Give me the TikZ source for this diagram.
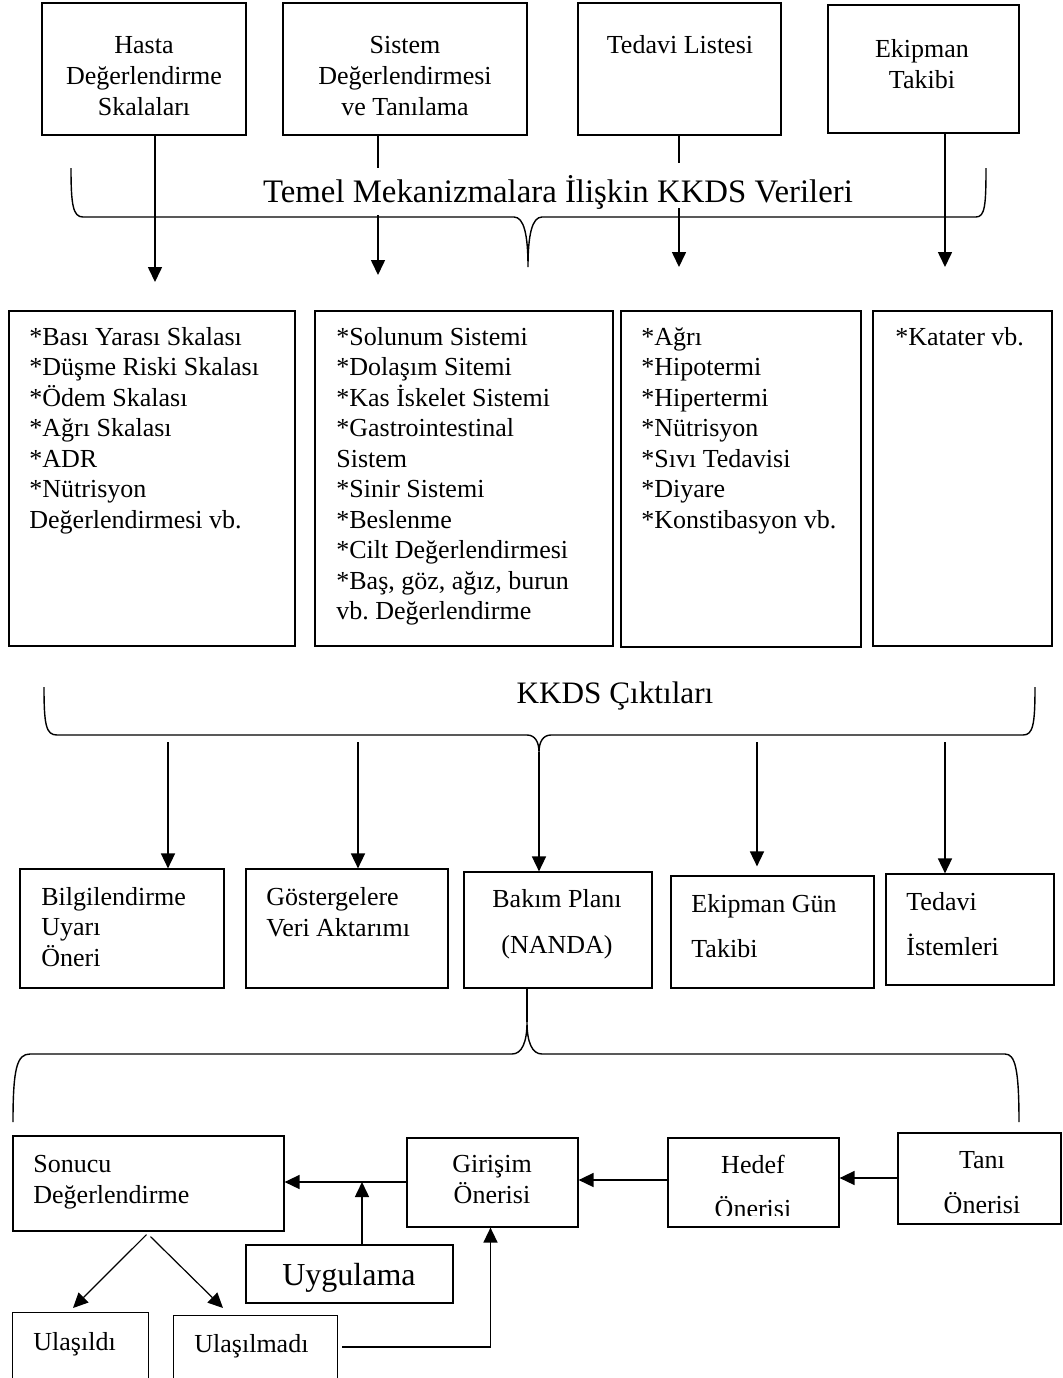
\documentclass[tikz,border=0pt]{standalone}
\usepackage{fontspec}
\setmainfont{Liberation Serif}
\usetikzlibrary{arrows.meta,fit}
\frenchspacing

\begin{document}
\begin{tikzpicture}[x=0.5pt,y=-0.5pt,
    font=\fontsize{13pt}{15.4pt}\selectfont,
    box/.style={draw,line width=0.6pt,inner sep=0pt},
    arr/.style={line width=0.8pt,-{Triangle[length=7.5pt,width=7pt]}},
    ln/.style={line width=0.8pt},
    brc/.style={line width=0.7pt},
    txt/.style={inner sep=0pt,align=left,anchor=base west},
    ctxt/.style={inner sep=0pt,align=center,anchor=base},
    liste/.style={font=\fontsize{13pt}{15.25pt}\selectfont}]
\useasboundingbox (0,0) rectangle (1062,1378);

% ust kutular (metin: son satirin taban cizgisi)
\node[box,fit={(42,3) (246,135)}] (hasta) {};
\node[ctxt] (thasta) at (144,115) {Hasta\\Değerlendirme\\Skalaları};
\node[box,fit={(283,3) (527,135)}] (sistem) {};
\node[ctxt] (tsistem) at (405,115) {Sistem\\Değerlendirmesi\\ve Tanılama};
\node[box,fit={(578,3) (781,135)}] (tedavi) {};
\node[ctxt] (ttedavi) at (680,53) {Tedavi Listesi};
\node[box,fit={(828,5) (1019,133)}] (ekipman) {};
\node[ctxt] (tekipman) at (922,88) {Ekipman\\Takibi};

% ust parantez
\draw[brc] (71,168) .. controls (71,205) and (73,217) .. (83,217) -- (514,217)
  .. controls (524,217) and (528,235) .. (528,267)
  .. controls (528,235) and (532,217) .. (542,217) -- (976,217)
  .. controls (985,217) and (986,205) .. (986,168);
\node[ctxt,font=\fontsize{16.4pt}{19pt}\selectfont] (baslik) at (558,202) {Temel Mekanizmalara İlişkin KKDS Verileri};

\coordinate (a1) at (155,282);
\coordinate (a2t) at (378,168);
\coordinate (a2b) at (378,215);
\coordinate (a2) at (378,275);
\coordinate (a3t) at (679,163);
\coordinate (a3b) at (679,208);
\coordinate (a3) at (679,267);
\coordinate (a4) at (945,267);
\draw[arr] (hasta.south -| a1) -- (a1);
\draw[ln] (sistem.south -| a2t) -- (a2t);
\draw[arr] (a2b) -- (a2);
\draw[ln] (tedavi.south -| a3t) -- (a3t);
\draw[arr] (a3b) -- (a3);
\draw[arr] (ekipman.south -| a4) -- (a4);

% orta kutular
\node[box,fit={(9,311) (295,646)}] (skala) {};
\node[txt,liste] (tskala) at (29,528) {*Bası Yarası Skalası\\*Düşme Riski Skalası\\*Ödem Skalası\\*Ağrı Skalası\\*ADR\\*Nütrisyon\\Değerlendirmesi vb.};
\node[box,fit={(315,311) (613,646)}] (sistemler) {};
\node[txt,liste] (tsistemler) at (336,619.5) {*Solunum Sistemi\\*Dolaşım Sitemi\\*Kas İskelet Sistemi\\*Gastrointestinal\\Sistem\\*Sinir Sistemi\\*Beslenme\\*Cilt Değerlendirmesi\\*Baş, göz, ağız, burun\\vb. Değerlendirme};
\node[box,fit={(621,311) (861,647)}] (tanilar) {};
\node[txt,liste] (ttanilar) at (641,528) {*Ağrı\\*Hipotermi\\*Hipertermi\\*Nütrisyon\\*Sıvı Tedavisi\\*Diyare\\*Konstibasyon vb.};
\node[box,fit={(873,311) (1052,646)}] (kateter) {};
\node[txt] (tkateter) at (895,345) {*Katater vb.};

% cikti parantezi
\coordinate (c3) at (539,752);
\draw[brc] (44,687) .. controls (44,725) and (46,735) .. (57,735) -- (527,735)
  .. controls (535,735) and (539,742) .. (c3)
  .. controls (539,742) and (543,735) .. (551,735) -- (1023,735)
  .. controls (1033,735) and (1035,725) .. (1035,687);
\node[ctxt,font=\fontsize{15.6pt}{18pt}\selectfont] (cikti) at (615,703) {KKDS Çıktıları};

% cikti kutulari
\node[box,fit={(20,869) (224,988)}] (bilgi) {};
\node[txt,liste] (tbilgi) at (41,966) {Bilgilendirme\\Uyarı\\Öneri};
\node[box,fit={(246,869) (448,988)}] (gosterge) {};
\node[txt,liste] (tgosterge) at (266,936) {Göstergelere\\Veri Aktarımı};
\node[box,fit={(464,872) (652,988)}] (bakim) {};
\node[ctxt] (tbakim) at (557,953) {Bakım Planı\\[7.5pt](NANDA)};
\node[box,fit={(671,876) (874,988)}] (ekipgun) {};
\node[txt] (tekipgun) at (691,957) {Ekipman Gün\\[7pt]Takibi};
\node[box,fit={(886,874) (1054,985)}] (istem) {};
\node[txt] (tistem) at (906,955) {Tedavi\\[7pt]İstemleri};

\coordinate (c1) at (168,742);
\coordinate (c2) at (358,742);
\coordinate (c4) at (757,742);
\coordinate (c5) at (945,742);
\draw[arr] (c1) -- (c1 |- bilgi.north);
\draw[arr] (c2) -- (c2 |- gosterge.north);
\draw[arr] (c3) -- (c3 |- bakim.north);
\draw[arr,shorten >=4.5pt] (c4) -- (c4 |- ekipgun.north);
\draw[arr] (c5) -- (c5 |- istem.north);

% bakim plani parantezi
\coordinate (c6) at (527,1022);
\draw[ln] (bakim.south -| c6) -- (c6);
\draw[brc] (13,1122) .. controls (13,1068) and (17,1054) .. (30,1054) -- (512,1054)
  .. controls (522,1054) and (527,1042) .. (c6)
  .. controls (527,1042) and (532,1054) .. (542,1054) -- (1005,1054)
  .. controls (1015,1054) and (1019,1068) .. (1019,1122);

% surec kutulari
\node[box,fit={(13,1136) (284,1231)}] (sonucu) {};
\node[txt] (tsonucu) at (33,1203) {Sonucu\\Değerlendirme};
\node[box,fit={(407,1138) (578,1227)}] (girisim) {};
\node[ctxt] (tgirisim) at (492,1203) {Girişim\\Önerisi};
\node[box,fit={(668,1138) (839,1227)}] (hedef) {};
\begin{scope}
  \clip (668,1138) rectangle (839,1215);
  \node[ctxt] (thedef) at (753,1217) {Hedef\\[6.5pt]Önerisi};
\end{scope}
\node[box,fit={(898,1133) (1061,1224)}] (tani) {};
\node[ctxt] (ttani) at (982,1213) {Tanı\\[7pt]Önerisi};
\node[box,fit={(246,1245) (453,1303)}] (uygulama) {};
\node[ctxt,font=\fontsize{16pt}{19pt}\selectfont] (tuygulama) at (349,1285) {Uygulama};

\node[inner sep=0pt,fit={(13,1313) (148,1378)}] (ulasildi) {};
\draw[line width=0.6pt] (ulasildi.south west) -- (ulasildi.north west) -- (ulasildi.north east) -- (ulasildi.south east);
\node[txt] (tulasildi) at (33,1350) {Ulaşıldı};
\node[inner sep=0pt,fit={(174,1316) (337,1378)}] (ulasilmadi) {};
\draw[line width=0.6pt] (ulasilmadi.south west) -- (ulasilmadi.north west) -- (ulasilmadi.north east) -- (ulasilmadi.south east);
\node[txt] (tulasilmadi) at (194,1352) {Ulaşılmadı};

% oklar
\coordinate (j1) at (362,1182);
\coordinate (j2) at (0,1180);
\coordinate (j3) at (0,1178);
\coordinate (d1) at (73,1308);
\coordinate (d2) at (223,1308);
\draw[arr] (girisim.west |- j1) -- (sonucu.east |- j1);
\draw[arr] (uygulama.north -| j1) -- (j1);
\draw[arr] (hedef.west |- j2) -- (girisim.east |- j2);
\draw[arr] (tani.west |- j3) -- (hedef.east |- j3);
\draw[line width=0.6pt,-{Triangle[length=7.5pt,width=7pt]}] ([xshift=-1pt,yshift=-1.5pt]sonucu.south) -- (d1);
\draw[line width=0.6pt,-{Triangle[length=7.5pt,width=7pt]}] ([xshift=1pt,yshift=-2.5pt]sonucu.south) -- (d2);
\draw[arr] ([xshift=2.5pt]ulasilmadi.east) -| ([xshift=-1pt]girisim.south);
\end{tikzpicture}
\end{document}
